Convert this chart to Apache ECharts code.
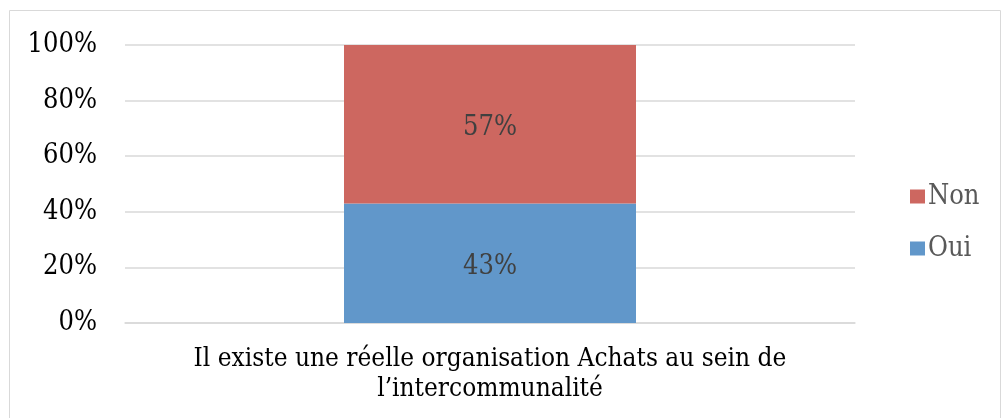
<!DOCTYPE html>
<html>
<head>
<meta charset="utf-8">
<script src="https://cdn.jsdelivr.net/npm/echarts@6/dist/echarts.min.js"></script>
<style>
  html, body { margin: 0; padding: 0; background: #fff; }
  #chart { width: 1003px; height: 418px; }
</style>
</head>
<body>
<div id="chart"></div>
<script>
const categories = ['Il existe une réelle organisation Achats au sein de\nl’intercommunalité'];
const oui = [43];
const non = [57];
const yTicks = [0, 20, 40, 60, 80, 100];

const font = '"DejaVu Serif Condensed", "DejaVu Serif", serif';
const chart = echarts.init(document.getElementById('chart'));
chart.setOption({
  animation: false,
  graphic: [{
    type: 'rect',
    shape: { x: 9.5, y: 10.5, width: 991, height: 430 },
    style: { fill: 'none', stroke: '#d9d9d9', lineWidth: 1 },
    silent: true
  }],
  grid: { left: 125, right: 148, top: 45, bottom: 95 },
  legend: {
    orient: 'vertical',
    left: 905,
    top: 178,
    itemWidth: 15,
    itemHeight: 14,
    itemGap: 25,
    icon: 'rect',
    data: ['Non', 'Oui'],
    textStyle: { fontFamily: font, fontSize: 27, color: '#595959', padding: [0, 0, 0, -2] }
  },
  xAxis: {
    type: 'category',
    data: categories,
    axisLine: { lineStyle: { color: '#d9d9d9', width: 1.5 } },
    axisTick: { show: false },
    axisLabel: { fontFamily: font, fontSize: 26, color: '#000', lineHeight: 30, margin: 21 }
  },
  yAxis: {
    type: 'value',
    min: 0,
    max: 100,
    interval: 20,
    axisLine: { show: false },
    axisTick: { show: false },
    splitLine: { lineStyle: { color: '#d9d9d9', width: 1.5 } },
    axisLabel: {
      fontFamily: font, fontSize: 27, color: '#000', margin: 28, padding: [4, 0, 0, 0],
      formatter: v => (yTicks.includes(v) ? v + '%' : '')
    }
  },
  series: [
    {
      name: 'Oui', type: 'bar', stack: 'total', data: oui, barWidth: '40%',
      itemStyle: { color: '#6197ca' },
      label: { show: true, position: 'inside', offset: [0, 4], formatter: '{c}%', fontFamily: font, fontSize: 27, color: '#404040' }
    },
    {
      name: 'Non', type: 'bar', stack: 'total', data: non, barWidth: '40%',
      itemStyle: { color: '#cd6760' },
      label: { show: true, position: 'inside', offset: [0, 4], formatter: '{c}%', fontFamily: font, fontSize: 27, color: '#404040' }
    }
  ]
});
</script>
</body>
</html>
